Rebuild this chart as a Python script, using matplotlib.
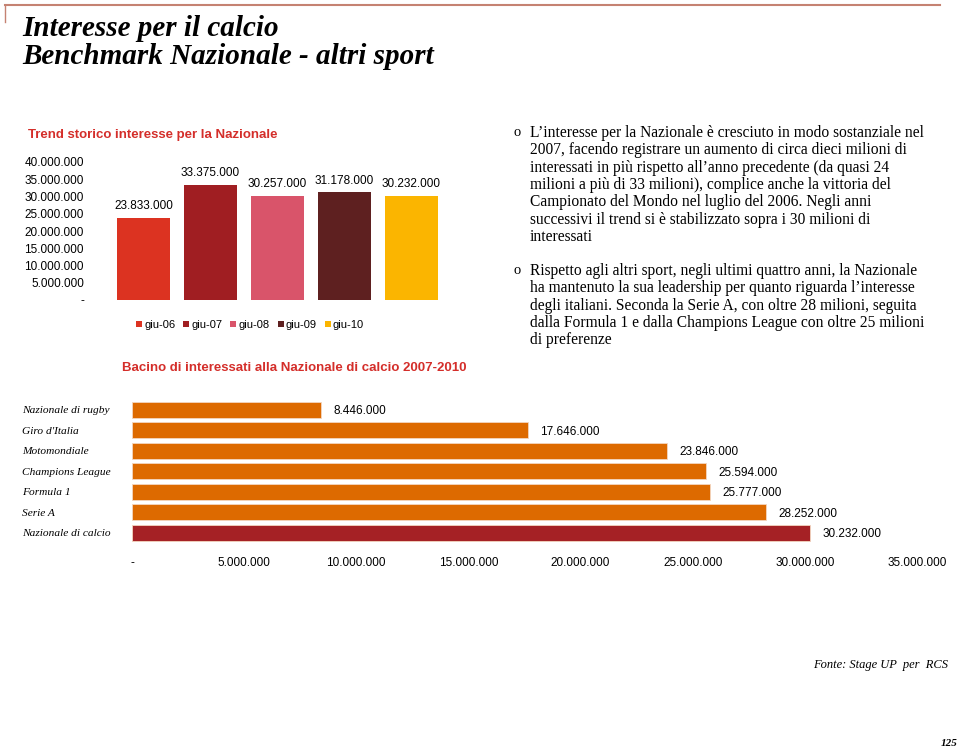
import numpy as np
import matplotlib.pyplot as plt
from matplotlib.lines import Line2D
from matplotlib.patches import Patch

# dati trend storico
anni = ['giu-06', 'giu-07', 'giu-08', 'giu-09', 'giu-10']
interessati = [23833000, 33375000, 30257000, 31178000, 30232000]
coloriAnni = ['#dc3321', '#a01e22', '#d9546a', '#5e2020', '#fbb500']

# dati benchmark altri sport
sport = ['Nazionale di rugby', "Giro d'Italia", 'Motomondiale', 'Champions League',
         'Formula 1', 'Serie A', 'Nazionale di calcio']
interessatiSport = [8446000, 17646000, 23846000, 25594000, 25777000, 28252000, 30232000]
coloriSport = ['#dd6a00'] * 6 + ['#a52125']

ticksTrend = [0, 5e6, 10e6, 15e6, 20e6, 25e6, 30e6, 35e6, 40e6]
ticksSport = [0, 5e6, 10e6, 15e6, 20e6, 25e6, 30e6, 35e6]


def formatta(v):
    if v == 0:
        return '-'
    return f"{int(v):,}".replace(',', '.')


W, H = 960, 750
fig = plt.figure(figsize=(9.6, 7.5), dpi=100)


def fx(px):
    return px / W


def fy(py):
    return 1 - py / H


# cornice in alto
fig.add_artist(Line2D([fx(5), fx(940)], [fy(5), fy(5)], color='#c58272', lw=1.5))
fig.add_artist(Line2D([fx(5), fx(5)], [fy(5), fy(22)], color='#c58272', lw=1.0))

serif = 'Liberation Serif'
sans = 'Liberation Sans'

fig.text(fx(22), fy(28), 'Interesse per il calcio', fontsize=21, fontweight='bold',
         style='italic', family=serif, va='center', ha='left')
fig.text(fx(22), fy(57), 'Benchmark Nazionale - altri sport', fontsize=21, fontweight='bold',
         style='italic', family=serif, va='center', ha='left')

# grafico trend
fig.text(fx(28), fy(135), 'Trend storico interesse per la Nazionale', color='#d42e2a',
         fontsize=9.5, fontweight='bold', family=sans, va='center', ha='left')

ax1 = fig.add_axes([fx(110), fy(300), fx(335), (300 - 162) / H])
x = np.arange(len(anni))
barre = ax1.bar(x, interessati, width=0.79, color=coloriAnni)
for xi, v in zip(x, interessati):
    ax1.text(xi, v + 1.6e6, formatta(v), ha='center', va='bottom', fontsize=8.5, family=sans)
ax1.set_ylim(0, 40e6)
ax1.set_xlim(-0.5, 4.5)
ax1.set_yticks(ticksTrend)
ax1.set_yticklabels([formatta(t) for t in ticksTrend], fontsize=8.5, family=sans)
ax1.tick_params(axis='y', length=0, pad=26 * 72 / 100)
ax1.set_xticks([])
for s in ax1.spines.values():
    s.set_visible(False)

maniglie = [Patch(facecolor=c, label=a) for a, c in zip(anni, coloriAnni)]
fig.legend(handles=maniglie, loc='center', bbox_to_anchor=(fx(250), fy(325)), ncol=5,
           frameon=False, handlelength=0.55, handleheight=0.55,
           handletextpad=0.2, columnspacing=0.7, prop={'family': sans, 'size': 8})

# testo a destra
righe1 = [
    "L\u2019interesse per la Nazionale è cresciuto in modo sostanziale nel",
    "2007, facendo registrare un aumento di circa dieci milioni di",
    "interessati in più rispetto all\u2019anno precedente (da quasi 24",
    "milioni a più di 33 milioni), complice anche la vittoria del",
    "Campionato del Mondo nel luglio del 2006. Negli anni",
    "successivi il trend si è stabilizzato sopra i 30 milioni di",
    "interessati",
]
righe2 = [
    "Rispetto agli altri sport, negli ultimi quattro anni, la Nazionale",
    "ha mantenuto la sua leadership per quanto riguarda l\u2019interesse",
    "degli italiani. Seconda la Serie A, con oltre 28 milioni, seguita",
    "dalla Formula 1 e dalla Champions League con oltre 25 milioni",
    "di preferenze",
]
for inizio, righe in [(133, righe1), (271, righe2)]:
    fig.text(fx(513), fy(inizio), 'o', fontsize=10.5, family=serif, va='center', ha='left')
    for i, r in enumerate(righe):
        fig.text(fx(530), fy(inizio + i * 17.3), r, fontsize=11.2, family=serif,
                 va='center', ha='left')

# grafico benchmark
fig.text(fx(122), fy(368), 'Bacino di interessati alla Nazionale di calcio 2007-2010',
         color='#d42e2a', fontsize=9.5, fontweight='bold', family=sans, va='center', ha='left')

ax2 = fig.add_axes([fx(132), fy(543), fx(785), 143.5 / H])
y = np.arange(len(sport))
ax2.barh(y, interessatiSport, height=0.78, color=coloriSport, edgecolor='#f3d6c0', linewidth=0.6)
for yi, v in zip(y, interessatiSport):
    ax2.text(v + 0.55e6, yi + 0.08, formatta(v), ha='left', va='center', fontsize=8.5, family=sans)
ax2.set_ylim(len(sport) - 0.5, -0.5)
ax2.set_xlim(0, 35e6)
ax2.set_yticks(y)
ax2.set_yticklabels(sport, fontsize=8.2, style='italic', family=serif, ha='left')
ax2.tick_params(axis='y', length=0, pad=110 * 72 / 100)
ax2.set_xticks(ticksSport)
ax2.set_xticklabels([formatta(t) for t in ticksSport], fontsize=8.5, family=sans)
ax2.tick_params(axis='x', length=0, pad=10)
for s in ax2.spines.values():
    s.set_visible(False)

fig.text(fx(948), fy(665), 'Fonte: Stage UP  per  RCS', fontsize=9, style='italic',
         family=serif, va='center', ha='right')
fig.text(fx(958), fy(743), '125', fontsize=8, style='italic', fontweight='bold',
         family=serif, va='center', ha='right')

plt.savefig('out.png', dpi=100)
